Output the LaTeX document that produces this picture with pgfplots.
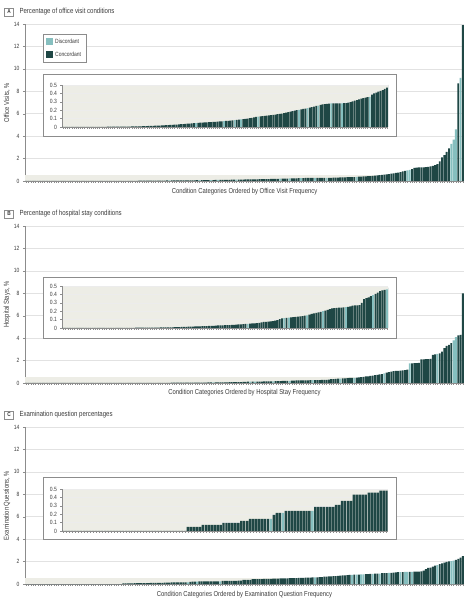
\documentclass[border=0pt]{standalone}
\usepackage{pgfplots}
\pgfplotsset{compat=1.18}
\usepackage{pgfplotstable}
\usepackage{fontspec}
\setmainfont{Liberation Sans}[FakeStretch=0.82]
\definecolor{conc}{HTML}{1F4745}
\definecolor{disc}{HTML}{86BFBF}
\definecolor{band}{HTML}{EDEDE6}
\definecolor{gridc}{HTML}{E2E2E2}
\definecolor{axc}{HTML}{8C8C8C}
\definecolor{txt}{HTML}{3A3A3A}

\pgfplotstableread[row sep=\\]{
v t\\
0.0005 0\\ 0.0006 0\\ 0.0007 0\\ 0.0008 0\\ 0.0009 0\\ 0.001 0\\ 0.001 0\\ 0.0011 0\\ 0.0012 0\\ 0.0013 0\\
0.0014 0\\ 0.0015 0\\ 0.0016 0\\ 0.0017 0\\ 0.0018 0\\ 0.002 0\\ 0.0021 0\\ 0.0022 0\\ 0.0024 0\\ 0.0026 0\\
0.0028 0\\ 0.003 0\\ 0.0032 0\\ 0.0034 0\\ 0.0036 0\\ 0.0038 0\\ 0.004 0\\ 0.0043 0\\ 0.0046 0\\ 0.0048 0\\
0.005 0\\ 0.0055 0\\ 0.006 0\\ 0.0065 0\\ 0.007 0\\ 0.0075 0\\ 0.008 0\\ 0.009 0\\ 0.010 0\\ 0.011 0\\
0.012 0\\ 0.013 0\\ 0.014 0\\ 0.015 0\\ 0.016 0\\ 0.017 0\\ 0.018 0\\ 0.020 0\\ 0.021 0\\ 0.023 0\\
0.024 0\\ 0.026 0\\ 0.027 0\\ 0.029 0\\ 0.031 0\\ 0.033 0\\ 0.035 0\\ 0.037 0\\ 0.039 0\\ 0.041 0\\
0.043 0\\ 0.045 0\\ 0.047 1\\ 0.050 0\\ 0.052 0\\ 0.053 0\\ 0.055 0\\ 0.056 0\\ 0.058 0\\ 0.059 0\\
0.061 0\\ 0.062 0\\ 0.064 0\\ 0.066 0\\ 0.068 0\\ 0.070 1\\ 0.072 0\\ 0.074 0\\ 0.077 0\\ 0.080 0\\
0.083 1\\ 0.086 0\\ 0.089 0\\ 0.092 1\\ 0.095 0\\ 0.098 0\\ 0.101 0\\ 0.105 0\\ 0.109 0\\ 0.114 0\\
0.120 0\\ 0.123 1\\ 0.126 0\\ 0.129 0\\ 0.132 0\\ 0.135 0\\ 0.138 0\\ 0.141 0\\ 0.144 0\\ 0.147 0\\
0.152 0\\ 0.157 0\\ 0.160 0\\ 0.166 0\\ 0.172 0\\ 0.178 0\\ 0.184 0\\ 0.189 0\\ 0.194 0\\ 0.200 0\\
0.205 1\\ 0.210 0\\ 0.215 0\\ 0.220 0\\ 0.225 1\\ 0.230 0\\ 0.236 0\\ 0.242 0\\ 0.250 0\\ 0.255 1\\
0.262 0\\ 0.268 0\\ 0.272 0\\ 0.276 0\\ 0.279 0\\ 0.280 1\\ 0.280 0\\ 0.281 0\\ 0.281 0\\ 0.282 0\\
0.282 1\\ 0.283 0\\ 0.285 0\\ 0.290 0\\ 0.297 0\\ 0.305 0\\ 0.313 0\\ 0.320 0\\ 0.330 0\\ 0.337 0\\
0.343 0\\ 0.350 0\\ 0.355 0\\ 0.360 1\\ 0.385 0\\ 0.400 0\\ 0.410 0\\ 0.420 0\\ 0.430 0\\ 0.440 0\\
0.455 0\\ 0.470 0\\ 0.50 0\\ 0.52 0\\ 0.55 0\\ 0.57 0\\ 0.60 0\\ 0.62 0\\ 0.65 0\\ 0.68 0\\
0.72 0\\ 0.75 0\\ 0.80 0\\ 0.85 0\\ 0.90 0\\ 0.95 1\\ 1.00 1\\ 1.05 0\\ 1.18 0\\ 1.20 0\\
1.21 0\\ 1.22 0\\ 1.22 0\\ 1.24 0\\ 1.26 0\\ 1.30 0\\ 1.35 0\\ 1.42 0\\ 1.50 0\\ 1.75 0\\
2.10 0\\ 2.30 0\\ 2.60 0\\ 2.90 0\\ 3.30 1\\ 3.70 1\\ 4.60 1\\ 8.70 0\\ 9.20 1\\ 13.90 0\\
}\tabA

\pgfplotstableread[row sep=\\]{
v t\\
0.0003 0\\ 0.0003 0\\ 0.0004 0\\ 0.0004 0\\ 0.0005 0\\ 0.0005 0\\ 0.0006 0\\ 0.0006 0\\ 0.0007 0\\ 0.0007 0\\
0.0008 0\\ 0.0008 0\\ 0.0009 0\\ 0.0009 0\\ 0.001 0\\ 0.001 0\\ 0.0011 0\\ 0.0012 0\\ 0.0013 0\\ 0.0014 0\\
0.0015 0\\ 0.0016 0\\ 0.0017 0\\ 0.0018 0\\ 0.0019 0\\ 0.002 0\\ 0.0021 0\\ 0.0022 0\\ 0.0023 0\\ 0.0024 0\\
0.0026 0\\ 0.0028 0\\ 0.003 0\\ 0.0032 0\\ 0.0034 0\\ 0.0036 0\\ 0.0038 0\\ 0.004 0\\ 0.0042 0\\ 0.0045 0\\
0.0048 0\\ 0.005 0\\ 0.0055 0\\ 0.006 0\\ 0.0065 0\\ 0.007 0\\ 0.0075 0\\ 0.008 0\\ 0.0085 0\\ 0.009 0\\
0.010 0\\ 0.011 0\\ 0.012 0\\ 0.013 0\\ 0.014 0\\ 0.015 0\\ 0.016 0\\ 0.017 0\\ 0.018 0\\ 0.019 0\\
0.020 0\\ 0.021 0\\ 0.022 0\\ 0.023 0\\ 0.024 0\\ 0.025 0\\ 0.026 0\\ 0.028 0\\ 0.030 0\\ 0.031 0\\
0.032 0\\ 0.033 0\\ 0.034 0\\ 0.035 0\\ 0.036 0\\ 0.038 0\\ 0.040 0\\ 0.042 0\\ 0.044 0\\ 0.046 0\\
0.048 0\\ 0.050 1\\ 0.052 0\\ 0.054 0\\ 0.056 0\\ 0.058 0\\ 0.062 0\\ 0.066 0\\ 0.072 0\\ 0.074 0\\
0.076 0\\ 0.078 0\\ 0.082 0\\ 0.088 0\\ 0.095 0\\ 0.105 0\\ 0.115 0\\ 0.118 1\\ 0.120 0\\ 0.122 1\\
0.125 0\\ 0.128 0\\ 0.132 0\\ 0.135 0\\ 0.138 0\\ 0.142 0\\ 0.146 0\\ 0.150 1\\ 0.158 0\\ 0.168 0\\
0.175 0\\ 0.180 0\\ 0.186 0\\ 0.192 0\\ 0.200 1\\ 0.208 0\\ 0.215 0\\ 0.225 0\\ 0.235 0\\ 0.238 0\\
0.240 0\\ 0.242 0\\ 0.244 0\\ 0.246 0\\ 0.248 1\\ 0.250 0\\ 0.258 0\\ 0.265 0\\ 0.268 0\\ 0.270 0\\
0.272 0\\ 0.300 0\\ 0.345 0\\ 0.355 0\\ 0.365 0\\ 0.380 0\\ 0.390 1\\ 0.405 0\\ 0.420 0\\ 0.440 0\\
0.448 0\\ 0.455 0\\ 0.460 1\\ 0.48 0\\ 0.50 0\\ 0.52 0\\ 0.55 0\\ 0.58 0\\ 0.60 0\\ 0.63 0\\
0.66 0\\ 0.70 0\\ 0.73 0\\ 0.76 0\\ 0.80 0\\ 0.85 1\\ 0.92 0\\ 0.98 0\\ 1.02 0\\ 1.05 0\\
1.07 0\\ 1.08 0\\ 1.10 0\\ 1.12 0\\ 1.15 0\\ 1.20 0\\ 1.76 1\\ 1.76 0\\ 1.77 0\\ 1.78 0\\
1.80 0\\ 2.10 0\\ 2.10 0\\ 2.12 0\\ 2.13 0\\ 2.15 0\\ 2.50 0\\ 2.55 0\\ 2.60 1\\ 2.65 0\\
2.80 0\\ 3.10 0\\ 3.30 0\\ 3.40 0\\ 3.55 0\\ 3.80 1\\ 4.10 1\\ 4.25 0\\ 4.30 0\\ 8.00 0\\
}\tabB

\pgfplotstableread[row sep=\\]{
v t\\
0 0\\ 0 0\\ 0 0\\ 0 0\\ 0 0\\ 0 0\\ 0 0\\ 0 0\\ 0 0\\ 0 0\\
0 0\\ 0 0\\ 0 0\\ 0 0\\ 0 0\\ 0 0\\ 0 0\\ 0 0\\ 0 0\\ 0 0\\
0 0\\ 0 0\\ 0 0\\ 0 0\\ 0 0\\ 0 0\\ 0 0\\ 0 0\\ 0 0\\ 0 0\\
0 0\\ 0 0\\ 0 0\\ 0 0\\ 0 0\\ 0 0\\ 0 0\\ 0 0\\ 0 0\\ 0 0\\
0 0\\ 0 0\\ 0.048 0\\ 0.048 0\\ 0.048 0\\ 0.048 0\\ 0.048 0\\ 0.072 0\\ 0.072 0\\ 0.072 0\\
0.072 0\\ 0.072 0\\ 0.072 0\\ 0.072 0\\ 0.096 0\\ 0.096 0\\ 0.096 0\\ 0.096 0\\ 0.096 0\\ 0.096 0\\
0.12 0\\ 0.12 0\\ 0.12 0\\ 0.144 0\\ 0.144 0\\ 0.144 0\\ 0.144 0\\ 0.144 0\\ 0.144 0\\ 0.144 0\\
0.144 1\\ 0.192 0\\ 0.216 0\\ 0.216 0\\ 0.216 1\\ 0.24 0\\ 0.24 0\\ 0.24 0\\ 0.24 0\\ 0.24 0\\
0.24 0\\ 0.24 0\\ 0.24 0\\ 0.24 0\\ 0.24 1\\ 0.288 0\\ 0.288 0\\ 0.288 0\\ 0.288 0\\ 0.288 0\\
0.288 0\\ 0.288 0\\ 0.312 0\\ 0.312 0\\ 0.36 0\\ 0.36 0\\ 0.36 0\\ 0.36 0\\ 0.432 0\\ 0.432 0\\
0.432 0\\ 0.432 0\\ 0.432 0\\ 0.456 0\\ 0.456 0\\ 0.456 0\\ 0.456 0\\ 0.48 0\\ 0.48 0\\ 0.48 0\\
0.504 0\\ 0.504 0\\ 0.504 0\\ 0.504 0\\ 0.528 0\\ 0.528 0\\ 0.528 0\\ 0.528 0\\ 0.552 0\\ 0.552 0\\
0.552 0\\ 0.576 0\\ 0.576 0\\ 0.576 0\\ 0.600 0\\ 0.600 1\\ 0.600 0\\ 0.624 0\\ 0.624 0\\ 0.648 0\\
0.648 0\\ 0.672 0\\ 0.672 0\\ 0.696 0\\ 0.696 0\\ 0.720 0\\ 0.744 0\\ 0.768 0\\ 0.768 0\\ 0.792 0\\
0.816 0\\ 0.816 1\\ 0.840 0\\ 0.840 1\\ 0.840 0\\ 0.864 1\\ 0.864 1\\ 0.888 0\\ 0.888 0\\ 0.912 0\\
0.912 1\\ 0.936 0\\ 0.936 0\\ 0.936 1\\ 0.960 0\\ 0.960 0\\ 0.960 0\\ 0.984 1\\ 0.984 0\\ 1.008 0\\
1.032 0\\ 1.056 0\\ 1.056 1\\ 1.056 0\\ 1.080 1\\ 1.080 1\\ 1.080 0\\ 1.080 1\\ 1.104 0\\ 1.104 0\\
1.104 0\\ 1.128 0\\ 1.200 0\\ 1.320 0\\ 1.440 0\\ 1.464 0\\ 1.560 0\\ 1.632 0\\ 1.680 1\\ 1.776 0\\
1.848 0\\ 1.896 0\\ 1.968 0\\ 2.016 0\\ 2.040 1\\ 2.088 1\\ 2.160 0\\ 2.232 0\\ 2.352 0\\ 2.496 0\\
}\tabC

\pgfplotsset{
  bars/.style={ybar, bar width=0.82, bar shift=0pt, draw=none},
  tfont/.style={font=\fontsize{6.1}{7}\selectfont, text=txt},
  mainax/.style={
    scale only axis, width=439pt, height=157pt,
    xmin=-0.5, xmax=189.5, ymin=0, ymax=14,
    axis lines*=left, axis line style={axc, line width=0.4pt},
    xtick={0,...,189}, xticklabels={},
    ytick={0,2,...,14},
    tick align=outside, major tick length=2pt,
    tick style={axc, line width=0.3pt},
    ymajorgrids, grid style={gridc, line width=0.5pt},
    yticklabel style={tfont},
    /pgf/number format/assume math mode=true,
    clip=false,
  },
  insetax/.style={
    scale only axis, width=326pt, height=42pt,
    xmin=-0.5, ymin=0, ymax=0.5,
    axis lines*=left, axis line style={axc, line width=0.4pt},
    axis background/.style={fill=band},
    ytick={0,0.1,0.2,0.3,0.4,0.5}, yticklabels={0,0.1,0.2,0.3,0.4,0.5},
    xticklabels={},
    tick align=outside, major tick length=1.6pt,
    tick style={axc, line width=0.3pt},
    ymajorgrids, grid style={white!85!gray, line width=0.5pt},
    yticklabel style={tfont},
  },
}

\begin{document}
\begin{tikzpicture}
\useasboundingbox (0pt,0pt) rectangle (468pt,603pt);
\tikzset{ttl/.style={anchor=west, font=\fontsize{7.4}{9}\selectfont, text=txt},
  lbl/.style={font=\fontsize{7.2}{9}\selectfont, text=txt},
  box/.style={draw=axc, line width=0.4pt, inner sep=1.2pt, minimum width=9pt, minimum height=7.5pt, font=\fontsize{5.8}{6}\selectfont\bfseries, text=txt}}

% ---------------- Panel A ----------------
\node[box] at (9pt,591pt) {A};
\node[ttl] at (16pt,591pt) {Percentage of office visit conditions};
\begin{axis}[mainax, at={(25pt,422pt)}, anchor=south west,
  legend style={at={(0.041,0.936)}, anchor=north west, draw=axc, line width=0.4pt,
    font=\fontsize{6.1}{7}\selectfont, text=txt, inner xsep=3pt, inner ysep=2.5pt, row sep=3pt, cells={anchor=west}},
  legend cell align=left]
\fill[band] (axis cs:-0.5,0) rectangle (axis cs:151.5,0.5);
\addplot[bars, fill=disc, restrict expr to domain={\thisrow{t}}{1:1},
  legend image code/.code={\fill[disc] (0pt,-3.3pt) rectangle (7pt,3.7pt);}]
  table[x expr=\coordindex, y=v] {\tabA};
\addlegendentry{Discordant}
\addplot[bars, fill=conc, restrict expr to domain={\thisrow{t}}{0:0},
  legend image code/.code={\fill[conc] (0pt,-3.3pt) rectangle (7pt,3.7pt);}]
  table[x expr=\coordindex, y=v] {\tabA};
\addlegendentry{Concordant}
\end{axis}
\draw[axc, line width=0.5pt, fill=white] (43pt,467pt) rectangle (396pt,529pt);
\begin{axis}[insetax, at={(62pt,476pt)}, anchor=south west, xmax=151.5, xtick={0,...,151}]
\addplot[bars, fill=disc, restrict expr to domain={\thisrow{t}}{1:1}]
  table[x expr=\coordindex, y=v] {\tabA};
\addplot[bars, fill=conc, restrict expr to domain={\thisrow{t}}{0:0}]
  table[x expr=\coordindex, y=v] {\tabA};
\end{axis}
\node[lbl] at (244.5pt,411.5pt) {Condition Categories Ordered by Office Visit Frequency};
\node[lbl, rotate=90] at (7pt,500.5pt) {Office Visits, \%};

% ---------------- Panel B ----------------
\node[box] at (9pt,389pt) {B};
\node[ttl] at (16pt,389pt) {Percentage of hospital stay conditions};
\begin{axis}[mainax, at={(25pt,220pt)}, anchor=south west]
\fill[band] (axis cs:-0.5,0) rectangle (axis cs:142.5,0.5);
\addplot[bars, fill=disc, restrict expr to domain={\thisrow{t}}{1:1}]
  table[x expr=\coordindex, y=v] {\tabB};
\addplot[bars, fill=conc, restrict expr to domain={\thisrow{t}}{0:0}]
  table[x expr=\coordindex, y=v] {\tabB};
\end{axis}
\draw[axc, line width=0.5pt, fill=white] (43pt,265pt) rectangle (396pt,326pt);
\begin{axis}[insetax, at={(62pt,275pt)}, anchor=south west, xmax=142.5, xtick={0,...,142}]
\addplot[bars, fill=disc, restrict expr to domain={\thisrow{t}}{1:1}]
  table[x expr=\coordindex, y=v] {\tabB};
\addplot[bars, fill=conc, restrict expr to domain={\thisrow{t}}{0:0}]
  table[x expr=\coordindex, y=v] {\tabB};
\end{axis}
\node[lbl] at (244.5pt,210pt) {Condition Categories Ordered by Hospital Stay Frequency};
\node[lbl, rotate=90] at (7pt,298.5pt) {Hospital Stays, \%};

% ---------------- Panel C ----------------
\node[box] at (9pt,188pt) {C};
\node[ttl] at (16pt,188pt) {Examination question percentages};
\begin{axis}[mainax, at={(25pt,19pt)}, anchor=south west]
\fill[band] (axis cs:-0.5,0) rectangle (axis cs:109.5,0.5);
\addplot[bars, fill=disc, restrict expr to domain={\thisrow{t}}{1:1}]
  table[x expr=\coordindex, y=v] {\tabC};
\addplot[bars, fill=conc, restrict expr to domain={\thisrow{t}}{0:0}]
  table[x expr=\coordindex, y=v] {\tabC};
\end{axis}
\draw[axc, line width=0.5pt, fill=white] (43pt,64pt) rectangle (396pt,126pt);
\begin{axis}[insetax, at={(62pt,72pt)}, anchor=south west, xmax=109.5, xtick={0,...,109}]
\addplot[bars, fill=disc, restrict expr to domain={\thisrow{t}}{1:1}]
  table[x expr=\coordindex, y=v] {\tabC};
\addplot[bars, fill=conc, restrict expr to domain={\thisrow{t}}{0:0}]
  table[x expr=\coordindex, y=v] {\tabC};
\end{axis}
\node[lbl] at (244.5pt,8.5pt) {Condition Categories Ordered by Examination Question Frequency};
\node[lbl, rotate=90] at (7pt,97.5pt) {Examination Questions, \%};
\end{tikzpicture}
\end{document}
